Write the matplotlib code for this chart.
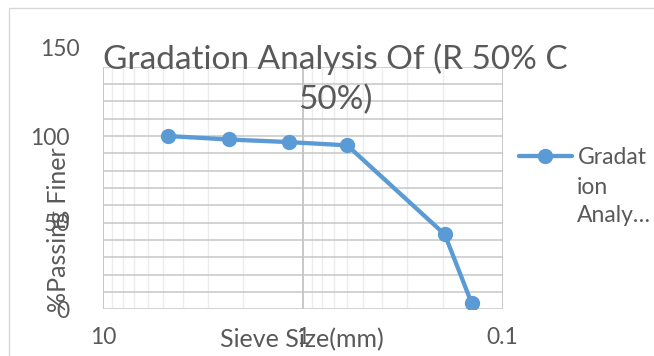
import matplotlib
matplotlib.use("Agg")
import matplotlib.pyplot as plt
from matplotlib.patches import Rectangle
import numpy as np

sieve_mm = [4.75, 2.36, 1.18, 0.6, 0.195, 0.143]
passing = [100.0, 98.0, 96.5, 94.6, 43.2, 3.5]
title_text = "Gradation Analysis Of (R 50% C\n50%)"
series_label = "Gradat"
series_label_rest = "ion\nAnaly…"
x_label = "Sieve Size(mm)"
y_label = "%Passing Finer"
y_tick_vals = [0, 50, 100, 150]
x_tick_vals = [10, 1, 0.1]
x_tick_labels = ["10", "1", "0.1"]

FONT = ["Lato", "DejaVu Sans"]
TXT = "#595959"
BLUE = "#5B9BD5"
FS = 16.5

fig = plt.figure(figsize=(6.54, 3.56), dpi=100)
fig.patch.set_facecolor("white")
fig.add_artist(Rectangle((9/654, -0.05), 1.1, 1 - 8/356 + 0.05, transform=fig.transFigure,
                         fill=False, edgecolor="#d9d9d9", linewidth=1.0))

ax = fig.add_axes([103.3/654, 1 - 309.3/356, 399.4/654, 242.6/356])
ax.set_xscale("log")
ax.set_xlim(10, 0.1)
ax.set_ylim(0, 140)

for d in [10, 1]:
    for k in range(2, 10):
        ax.axvline(d * k / 10, color="#ececec", lw=1.0, zorder=0.5)
for v in x_tick_vals:
    ax.axvline(v, color="#bfbfbf", lw=1.2, zorder=0.8)
for yv in np.arange(0, 141, 10):
    ax.axhline(yv, color="#c6c6c6", lw=1.1, zorder=0.9)

for s in ax.spines.values():
    s.set_visible(False)

ax.plot(sieve_mm, passing, color=BLUE, lw=3.1, marker="o", markersize=10,
        markerfacecolor=BLUE, markeredgecolor=BLUE, zorder=3, label=series_label,
        solid_capstyle="round")

ax.set_yticks([t for t in y_tick_vals if t <= 140])
ax.set_yticklabels([str(t) for t in y_tick_vals if t <= 140])
ax.text(-24/399.4, 150, str(y_tick_vals[-1]), transform=ax.get_yaxis_transform(),
        ha="right", va="center", fontsize=FS, color=TXT, family=FONT, clip_on=False)
ax.set_xticks(x_tick_vals)
ax.set_xticklabels(x_tick_labels)
ax.minorticks_off()
ax.tick_params(axis="both", length=0, labelsize=FS, labelcolor=TXT)
ax.tick_params(axis="y", pad=24)
ax.tick_params(axis="x", pad=13)
for lab in ax.get_xticklabels() + ax.get_yticklabels():
    lab.set_family(FONT)

ax.set_xlabel(x_label, fontsize=18, color=TXT, family=FONT)
ax.xaxis.set_label_coords(0.497, -0.127)
ax.xaxis.label.set_va("center")
ax.set_ylabel(y_label, fontsize=18, color=TXT, family=FONT)
ax.yaxis.set_label_coords(-0.113, 0.327)
ax.yaxis.label.set_va("center")

fig.text(335/654, 1 - 79/356, title_text, ha="center", va="center", fontsize=24,
         color=TXT, family=FONT, linespacing=1.4)

leg = fig.legend(loc="center left", bbox_to_anchor=(519/654, 1 - 158/356), frameon=False,
                 handlelength=2.3, handletextpad=0.25, borderpad=0, borderaxespad=0,
                 prop={"family": FONT, "size": FS})
for t in leg.get_texts():
    t.set_color(TXT)
fig.text(577/654, 1 - 177/356, series_label_rest, ha="left", va="top", fontsize=FS,
         color=TXT, family=FONT, linespacing=1.4)

fig.savefig("out.png", dpi=100)
